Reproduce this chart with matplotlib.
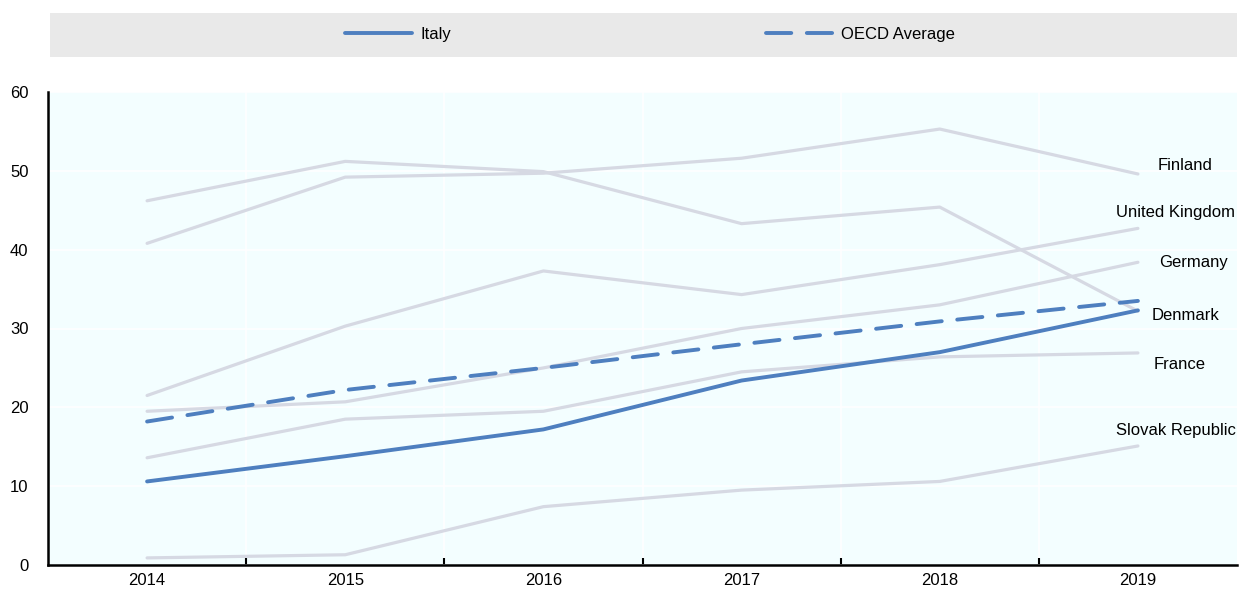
import matplotlib.pyplot as plt
from matplotlib.patches import Rectangle
from matplotlib import font_manager

years = ['2014', '2015', '2016', '2017', '2018', '2019']

italy = [10.6, 13.8, 17.2, 23.4, 27.0, 32.3]
oecd = [18.2, 22.2, 25.0, 28.0, 30.9, 33.5]

# other countries (grey background lines)
others = {
    'Finland': [40.8, 49.2, 49.7, 51.6, 55.3, 49.6],
    'Denmark': [46.2, 51.2, 49.9, 43.3, 45.4, 32.2],
    'United Kingdom': [21.5, 30.3, 37.3, 34.3, 38.1, 42.7],
    'Germany': [19.5, 20.7, 25.0, 30.0, 33.0, 38.4],
    'France': [13.6, 18.5, 19.5, 24.5, 26.4, 26.9],
    'Slovak Republic': [0.9, 1.3, 7.4, 9.5, 10.6, 15.1],
}
# where the country names sit (x, y in data units)
label_pos = {
    'Finland': (5.24, 50.7),
    'United Kingdom': (5.19, 44.7),
    'Germany': (5.28, 38.4),
    'Denmark': (5.24, 31.7),
    'France': (5.21, 25.4),
    'Slovak Republic': (5.19, 17.1),
}

names = [f.name for f in font_manager.fontManager.ttflist]
if 'Liberation Sans Narrow' in names:
    plt.rcParams['font.family'] = ['Liberation Sans Narrow', 'DejaVu Sans']
else:
    plt.rcParams['font.family'] = ['Liberation Sans', 'DejaVu Sans']
plt.rcParams['font.size'] = 12

blue = '#4e7fbf'
grey = '#d6d9e3'

fig = plt.figure(figsize=(12.39, 5.89), dpi=100)
ax = fig.add_axes([48 / 1239, 24 / 589, (1237 - 48) / 1239, (565 - 92) / 589])
ax.set_facecolor('#f3feff')

x = range(len(years))
for name, vals in others.items():
    ax.plot(x, vals, color=grey, lw=2.3, solid_capstyle='round', zorder=2)
    lx, ly = label_pos[name]
    ax.text(lx, ly, name, ha='center', va='center', fontsize=12, zorder=4)

ax.plot(x, italy, color=blue, lw=2.8, solid_capstyle='round', label='Italy', zorder=3)
ax.plot(x, oecd, color=blue, lw=2.8, dashes=(6.5, 4), dash_capstyle='round',
        label='OECD Average', zorder=3)

ax.set_xlim(-0.5, 5.5)
ax.set_ylim(0, 60)
ax.set_yticks(range(0, 61, 10))
ax.set_xticks(list(x))
ax.set_xticklabels(years)
ax.set_xticks([i + 0.5 for i in range(5)], minor=True)
ax.tick_params(axis='x', which='major', length=0, pad=6)
ax.tick_params(axis='x', which='minor', direction='in', length=5, width=1.5)
ax.tick_params(axis='y', length=0, pad=14)
ax.grid(axis='y', color='white', lw=1.2, zorder=1)
ax.grid(axis='x', which='minor', color='white', lw=1.2, zorder=1)
ax.set_axisbelow(True)
for side in ['top', 'right']:
    ax.spines[side].set_visible(False)
for side in ['left', 'bottom']:
    ax.spines[side].set_linewidth(1.8)

# grey legend band
fig.patches.append(Rectangle((50 / 1239, 1 - 57 / 589), (1237 - 50) / 1239, 44 / 589,
                             transform=fig.transFigure, facecolor='#e9e9e9',
                             edgecolor='none', zorder=0))
fig.legend(loc='center', bbox_to_anchor=(650 / 1239, 1 - 34 / 589), ncol=2,
           frameon=False, handlelength=4.0, handletextpad=0.5, columnspacing=18.9,
           fontsize=12)

fig.savefig('out.png', dpi=100)
